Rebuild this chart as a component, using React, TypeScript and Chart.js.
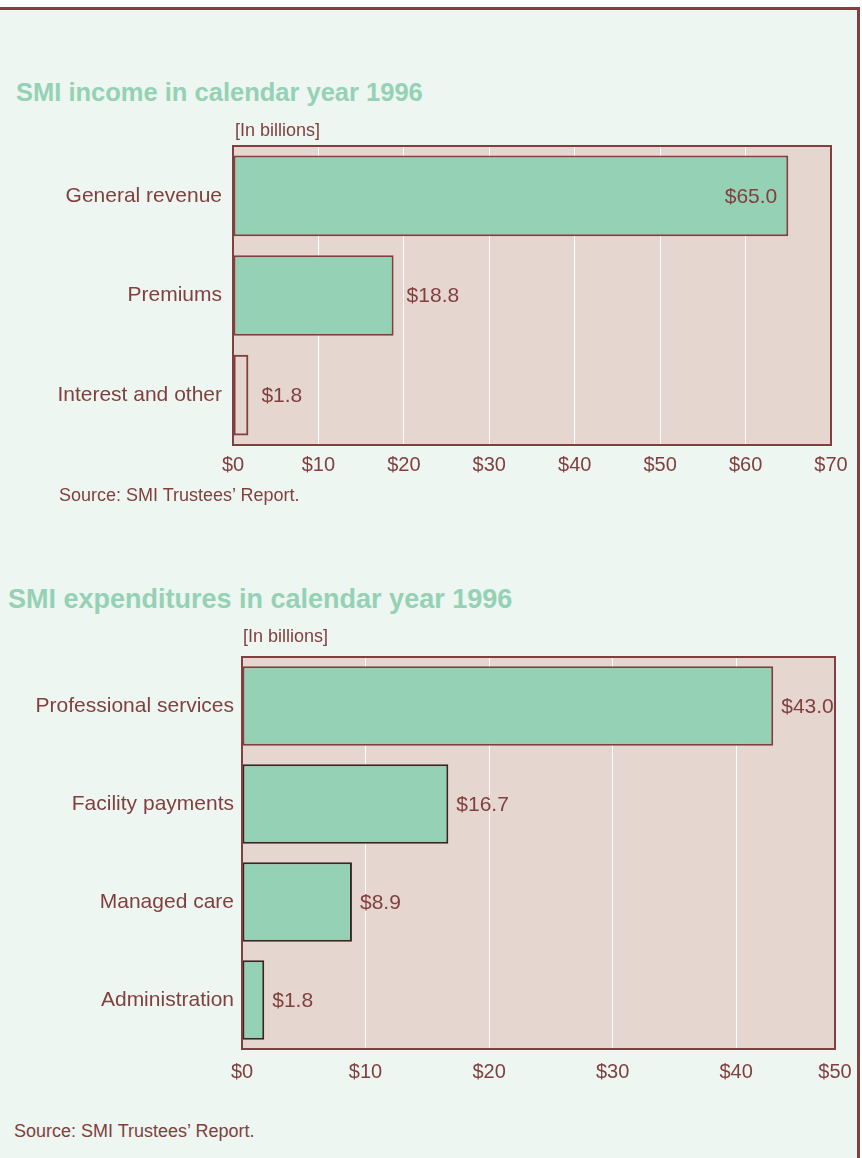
import React, { useEffect, useRef } from 'react';
import { Chart, registerables } from 'chart.js';

Chart.register(...registerables);

// ---------- data ----------
const incomeCategories = ['General revenue', 'Premiums', 'Interest and other'];
const incomeValues = [65.0, 18.8, 1.8];
const incomeValueLabels = ['$65.0', '$18.8', '$1.8'];
const incomeTickValues = [0, 10, 20, 30, 40, 50, 60, 70];
const incomeTickLabels = ['$0', '$10', '$20', '$30', '$40', '$50', '$60', '$70'];
const incomeAxisMax = 70;

const expCategories = ['Professional services', 'Facility payments', 'Managed care', 'Administration'];
const expValues = [43.0, 16.7, 8.9, 1.8];
const expValueLabels = ['$43.0', '$16.7', '$8.9', '$1.8'];
const expTickValues = [0, 10, 20, 30, 40, 48];
const expTickLabels = ['$0', '$10', '$20', '$30', '$40', '$50'];
const expAxisMax = 48;

// ---------- styles ----------
const FONT = '"Liberation Sans", Arial, Helvetica, sans-serif';
const PAGE_BG = '#EDF6F0';
const PLOT_BG = '#E5D6CF';
const GREEN = '#94D1B5';
const DARK = '#813F3F';
const TEXT = '#813F3F';
const NEAR_BLACK = '#3A2525';

type ChartSpec = {
  categories: string[];
  values: number[];
  valueLabels: string[];
  tickValues: number[];
  tickLabels: string[];
  max: number;
  fills: string[];
  borders: string[];
  placement: string[];
  gap: number;
  width: number;
  height: number;
  yAxisWidth: number;
  xAxisHeight: number;
  padTop: number;
  padRight: number;
  xTickPadding: number;
  yTickPadding: number;
};

function makePlugin(spec: ChartSpec) {
  return {
    id: 'decor',
    beforeDraw(chart: any) {
      const { ctx, chartArea: a } = chart;
      ctx.save();
      ctx.fillStyle = PLOT_BG;
      ctx.fillRect(a.left, a.top, a.right - a.left, a.bottom - a.top);
      ctx.restore();
    },
    afterDatasetsDraw(chart: any) {
      const { ctx, chartArea: a } = chart;
      ctx.save();
      ctx.strokeStyle = DARK;
      ctx.lineWidth = 2;
      ctx.strokeRect(a.left, a.top, a.right - a.left, a.bottom - a.top);
      const meta = chart.getDatasetMeta(0);
      ctx.font = '21px ' + FONT;
      ctx.fillStyle = TEXT;
      ctx.textBaseline = 'middle';
      meta.data.forEach((bar: any, i: number) => {
        const inside = spec.placement[i] === 'inside';
        ctx.textAlign = inside ? 'right' : 'left';
        ctx.fillText(spec.valueLabels[i], inside ? bar.x - 11 : bar.x + spec.gap, bar.y + 1);
      });
      ctx.restore();
    },
  };
}

function BarChart({ spec }: { spec: ChartSpec }) {
  const ref = useRef<HTMLCanvasElement | null>(null);
  useEffect(() => {
    if (!ref.current) return;
    const chart = new Chart(ref.current, {
      type: 'bar',
      data: {
        labels: spec.categories,
        datasets: [
          {
            data: spec.values,
            backgroundColor: spec.fills,
            borderColor: spec.borders,
            borderWidth: 2,
            borderSkipped: false,
            barPercentage: 0.81,
            categoryPercentage: 1,
          },
        ],
      },
      options: {
        indexAxis: 'y',
        responsive: false,
        maintainAspectRatio: false,
        animation: false,
        layout: { padding: { top: spec.padTop, right: spec.padRight, left: 0, bottom: 0 } },
        plugins: { legend: { display: false }, tooltip: { enabled: false }, title: { display: false } },
        scales: {
          x: {
            type: 'linear',
            min: 0,
            max: spec.max,
            grid: { color: '#FFFFFF', lineWidth: 1, drawTicks: false },
            border: { display: false },
            afterBuildTicks: (scale: any) => {
              scale.ticks = spec.tickValues.map((v) => ({ value: v }));
            },
            afterFit: (scale: any) => {
              scale.height = spec.xAxisHeight;
              scale.paddingLeft = 0;
              scale.paddingRight = 0;
            },
            ticks: {
              autoSkip: false,
              maxRotation: 0,
              padding: spec.xTickPadding,
              color: TEXT,
              font: { family: FONT, size: 20 },
              callback: (_v: any, i: number) => spec.tickLabels[i],
            },
          },
          y: {
            type: 'category',
            grid: { display: false, drawTicks: false },
            border: { display: false },
            afterFit: (scale: any) => {
              scale.width = spec.yAxisWidth;
              scale.paddingTop = 0;
              scale.paddingBottom = 0;
            },
            ticks: {
              padding: spec.yTickPadding,
              color: TEXT,
              font: { family: FONT, size: 21 },
            },
          },
        },
      },
      plugins: [makePlugin(spec) as any],
    } as any);
    return () => chart.destroy();
  }, [spec]);
  return <canvas ref={ref} width={spec.width} height={spec.height} style={{ display: 'block' }} />;
}

const incomeSpec: ChartSpec = {
  categories: incomeCategories,
  values: incomeValues,
  valueLabels: incomeValueLabels,
  tickValues: incomeTickValues,
  tickLabels: incomeTickLabels,
  max: incomeAxisMax,
  fills: [GREEN, GREEN, 'rgba(0,0,0,0)'],
  borders: [DARK, DARK, DARK],
  placement: ['inside', 'outside', 'outside'],
  gap: 13,
  width: 857,
  height: 370,
  yAxisWidth: 233,
  xAxisHeight: 45,
  padTop: 26,
  padRight: 26,
  xTickPadding: 8,
  yTickPadding: 11,
};

const expSpec: ChartSpec = {
  categories: expCategories,
  values: expValues,
  valueLabels: expValueLabels,
  tickValues: expTickValues,
  tickLabels: expTickLabels,
  max: expAxisMax,
  fills: [GREEN, GREEN, GREEN, GREEN],
  borders: [DARK, NEAR_BLACK, NEAR_BLACK, NEAR_BLACK],
  placement: ['outside', 'outside', 'outside', 'outside'],
  gap: 8,
  width: 857,
  height: 460,
  yAxisWidth: 242,
  xAxisHeight: 51,
  padTop: 17,
  padRight: 22,
  xTickPadding: 11,
  yTickPadding: 8,
};

const abs = (left: number, top: number, extra: React.CSSProperties = {}): React.CSSProperties => ({
  position: 'absolute',
  left,
  top,
  whiteSpace: 'nowrap',
  fontFamily: FONT,
  lineHeight: 1,
  ...extra,
});

export default function App() {
  return (
    <div style={{ position: 'absolute', left: 0, top: 0, width: 862, height: 1158, background: '#FFFFFF', overflow: 'hidden' }}>
      <div style={{ position: 'absolute', left: 0, top: 10, width: 857, height: 1148, background: PAGE_BG }} />
      <div style={{ position: 'absolute', left: 0, top: 7, width: 860, height: 3, background: DARK }} />
      <div style={{ position: 'absolute', left: 857, top: 7, width: 3, height: 1151, background: DARK }} />

      <div style={{ position: 'absolute', left: 0, top: 120 }}>
        <BarChart spec={incomeSpec} />
      </div>
      <div style={{ position: 'absolute', left: 0, top: 640 }}>
        <BarChart spec={expSpec} />
      </div>

      <div style={abs(16, 80, { fontSize: 25.5, fontWeight: 'bold', color: GREEN })}>SMI income in calendar year 1996</div>
      <div style={abs(235, 121, { fontSize: 18, color: TEXT })}>[In billions]</div>
      <div style={abs(59, 486, { fontSize: 18, color: TEXT })}>Source: SMI Trustees’ Report.</div>

      <div style={abs(8, 586, { fontSize: 27, fontWeight: 'bold', color: GREEN })}>SMI expenditures in calendar year 1996</div>
      <div style={abs(243, 627, { fontSize: 18, color: TEXT })}>[In billions]</div>
      <div style={abs(14, 1122, { fontSize: 18, color: TEXT })}>Source: SMI Trustees’ Report.</div>
    </div>
  );
}
